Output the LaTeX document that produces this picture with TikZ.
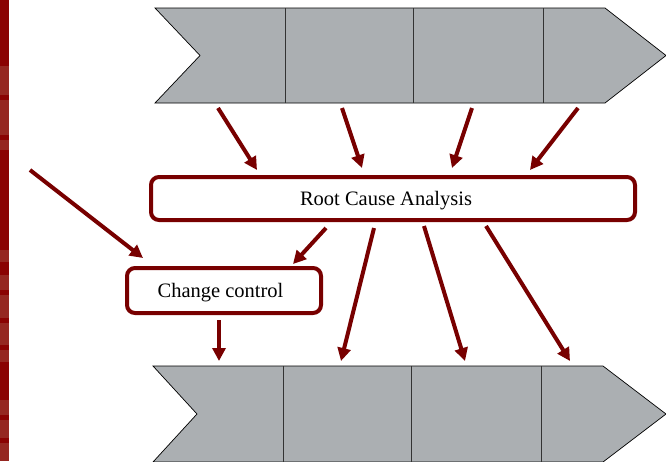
\documentclass[tikz,border=0pt]{standalone}
\usepackage{fontspec}
\setmainfont{Liberation Serif}
\usetikzlibrary{arrows.meta}
\definecolor{maroon}{HTML}{780000}
\definecolor{chevgray}{HTML}{ABAFB2}
\definecolor{stripdark}{HTML}{8A0202}
\definecolor{striplight}{HTML}{952721}
\begin{document}
\begin{tikzpicture}[x=1pt,y=-1pt,
  chevron/.style={fill=chevgray,draw=black,line width=0.7pt,line join=miter},
  divider/.style={draw=black!80,line width=0.7pt},
  box/.style={draw=maroon,line width=4pt,rounded corners=8pt,fill=white,
    font=\fontsize{20.5}{24}\selectfont,inner sep=0pt},
  arr/.style={draw=maroon,line width=4pt,-{Triangle[length=13pt,width=13pt]}}]
  \useasboundingbox (0,0) rectangle (666,461);
  \fill[white] (0,0) rectangle (666,461);
  % mottled border strip on the left
  \fill[stripdark] (0,0) rectangle (9,461);
  \foreach \a/\b in {66/135,140/150,250/262,275/362,400/461}
    \fill[striplight] (0,\a) rectangle (9,\b);
  \foreach \y in {95,160,290,318,345,415,438}
    \fill[stripdark] (0,\y) rectangle (9,\y+5);

  % upper process chevron
  \path[chevron] (155,8) -- (605,8) -- (666,55.5) -- (605,103) -- (155,103) -- (200,55.5) -- cycle;
  \foreach \x in {285,413,543} \draw[divider] (\x,8) -- (\x,103);
  % lower process chevron
  \path[chevron] (153,366) -- (603,366) -- (666,414) -- (603,462) -- (153,462) -- (197,414) -- cycle;
  \foreach \x in {283,411,541} \draw[divider] (\x,366) -- (\x,462);

  % boxes (baseline set 7pt below the box centre)
  \node[box,minimum width=484pt,minimum height=43pt] (rca) at (393,198.5)
    {\smash{\raisebox{-7pt}{Root Cause Analysis}}\hspace{14pt}\mbox{}};
  \node[box,minimum width=194pt,minimum height=45pt] (cc) at (224,290.5)
    {\smash{\raisebox{-7pt}{Change control}}\hspace{7pt}\mbox{}};

  % connector end points
  \coordinate (t1) at (218,108); \coordinate (r1) at (257,170);
  \coordinate (t2) at (342,108); \coordinate (r2) at (362,168);
  \coordinate (t3) at (472,108); \coordinate (r3) at (452,168);
  \coordinate (t4) at (578,108); \coordinate (r4) at (530,170);
  \coordinate (ext) at (30,170); \coordinate (c1) at (143,258);
  \coordinate (rc) at (326,228); \coordinate (c2) at (293,264);
  \coordinate (cd) at (219,320); \coordinate (b1) at (219,361);
  \coordinate (ra) at (374,228); \coordinate (b2) at (341,361);
  \coordinate (rb) at (424,226); \coordinate (b3) at (465,361);
  \coordinate (rd) at (486,226); \coordinate (b4) at (570,361);

  \draw[arr] (t1) -- (r1);
  \draw[arr] (t2) -- (r2);
  \draw[arr] (t3) -- (r3);
  \draw[arr] (t4) -- (r4);
  \draw[arr] (ext) -- (c1);
  \draw[arr] (rc) -- (c2);
  \draw[arr] (cd) -- (b1);
  \draw[arr] (ra) -- (b2);
  \draw[arr] (rb) -- (b3);
  \draw[arr] (rd) -- (b4);
\end{tikzpicture}
\end{document}
